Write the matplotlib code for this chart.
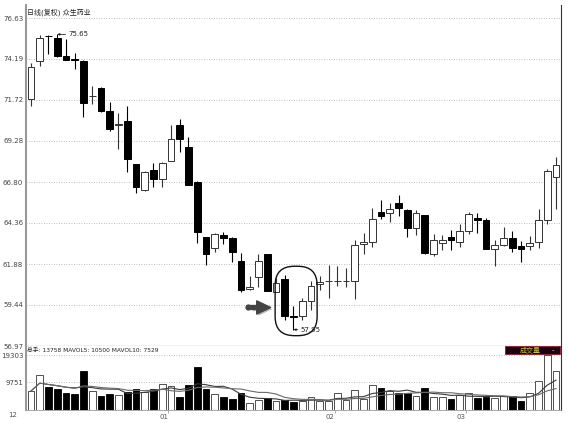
import numpy as np
import pandas as pd
import matplotlib
matplotlib.use("Agg")
import matplotlib.pyplot as plt
import matplotlib.patheffects as pe
from matplotlib.patches import FancyBboxPatch, FancyArrowPatch, Rectangle

plt.rcParams["font.family"] = ["DejaVu Sans", "Noto Sans CJK SC"]


# ==============================
# DATA
# ==============================

opens = [71.77, 74.06, 75.58, 75.41, 74.36, 74.18, 74.06, 71.95, 72.45, 71.03,
         70.24, 70.44, 67.85, 66.31, 67.53, 66.97, 68.03, 70.23, 68.92, 66.83,
         63.50, 62.85, 63.62, 63.46, 62.05, 60.40, 61.09, 62.46, 60.20, 61.01,
         58.76, 58.74, 59.68, 60.70, 60.84, 60.86, 60.86, 60.89, 63.10, 63.21,
         65.02, 64.94, 65.56, 65.14, 64.06, 64.82, 62.46, 63.12, 63.50, 63.21,
         63.85, 64.66, 64.52, 62.79, 63.05, 63.46, 62.94, 62.94, 63.21, 64.52,
         67.13]
highs = [73.96, 75.60, 75.62, 75.65, 75.36, 74.56, 74.12, 72.53, 72.50, 71.59,
         70.93, 71.37, 67.90, 67.47, 67.94, 68.00, 70.24, 70.59, 69.48, 66.85,
         63.52, 63.72, 63.82, 63.50, 62.55, 61.15, 62.46, 62.48, 61.05, 61.21,
         59.34, 59.83, 60.87, 61.15, 61.85, 61.74, 61.65, 63.32, 63.75, 65.26,
         65.74, 65.56, 66.03, 65.16, 65.10, 64.84, 63.66, 63.60, 63.90, 64.30,
         65.00, 64.96, 64.62, 63.30, 64.10, 63.86, 63.26, 63.55, 65.20, 67.60,
         68.27]
lows = [71.33, 73.76, 74.50, 74.30, 74.10, 73.60, 70.68, 71.49, 71.00, 69.88,
        68.78, 67.37, 66.13, 66.25, 66.53, 66.53, 68.03, 68.58, 66.61, 63.16,
        61.85, 62.61, 63.06, 61.99, 60.20, 60.35, 60.48, 60.24, 60.18, 58.54,
        57.95, 58.54, 59.14, 60.30, 59.84, 60.54, 60.50, 59.80, 62.46, 62.90,
        64.60, 64.42, 64.78, 63.53, 63.60, 62.50, 62.35, 62.74, 62.74, 62.90,
        63.70, 63.75, 62.76, 61.75, 62.95, 62.61, 62.00, 62.70, 62.85, 64.27,
        65.17]
closes = [73.70, 75.44, 75.54, 74.38, 74.14, 74.10, 71.53, 71.97, 71.05, 69.96,
          70.26, 68.15, 66.53, 67.37, 66.97, 67.91, 69.38, 69.36, 66.61, 63.80,
          62.46, 63.66, 63.46, 62.61, 60.35, 60.50, 62.09, 60.24, 60.75, 58.74,
          58.72, 59.64, 60.59, 60.82, 60.86, 60.86, 60.89, 63.02, 63.18, 64.56,
          64.76, 65.19, 65.26, 64.06, 64.96, 62.55, 63.30, 63.32, 63.34, 63.85,
          64.86, 64.52, 62.76, 63.03, 63.46, 62.85, 62.79, 63.15, 64.52, 67.47,
          67.84]
volumes = [6690, 12215, 7990, 7286, 5878, 5526, 13834, 6794, 4928, 5632,
           5280, 6336, 7392, 6442, 7392, 9046, 8554, 4470, 8800, 15242,
           7392, 5526, 4682, 3872, 6090, 2358, 3520, 4330, 3168, 3520,
           2710, 3168, 4682, 3274, 3274, 5878, 3520, 7040, 3766, 8800,
           7638, 6794, 5878, 5878, 4928, 7638, 4682, 4682, 3766, 5280,
           5878, 4350, 4480, 4150, 4810, 5000, 3200, 5900, 10339, 19303,
           13758]

price_ticks = [76.63, 74.19, 71.72, 69.28, 66.80, 64.36, 61.88, 59.44, 56.97]
vol_ticks = [9751, 19303]
month_labels = ["01", "02", "03"]
month_starts = [16, 35, 50]

title = "日线(复权) 众生药业"


# ==============================
# FIGURE
# ==============================

W, H = 568, 423
fig = plt.figure(figsize=(W / 100, H / 100), dpi=100)
fig.patch.set_facecolor("white")

ax = fig.add_axes([26 / W, 1 - 346 / H, 535 / W, 341 / H])
axv = fig.add_axes([26 / W, 1 - 410 / H, 535 / W, 64 / H])

o = np.array(opens)
h = np.array(highs)
l = np.array(lows)
c = np.array(closes)
v = np.array(volumes)
x = np.arange(len(o))
up = c >= o

face = np.where(up, "white", "black")
edge = np.where(up, "#333333", "black")

# candles
ax.vlines(x, l, h, colors=edge, lw=0.8, zorder=2)
ax.bar(x, np.maximum(np.abs(c - o), 0.03), bottom=np.minimum(o, c), width=0.75,
       color=face, edgecolor=edge, linewidth=0.7, zorder=3)

ax.set_xlim(-0.57, 60.57)
ax.set_ylim(56.97, 77.41)
ax.set_yticks(price_ticks)
ax.set_yticklabels([f"{t:.2f}" for t in price_ticks])
ax.set_xticks([])
ax.tick_params(axis="y", length=0, pad=2, labelsize=5, labelcolor="#444444")
ax.grid(axis="y", linestyle=(0, (1, 2)), color="#aaaaaa", lw=0.6, zorder=0)
ax.spines["top"].set_visible(False)
ax.spines["left"].set_color("#999999")
ax.spines["left"].set_linewidth(1.5)
ax.spines["right"].set_color("#333333")
ax.spines["right"].set_linewidth(0.8)
ax.spines["bottom"].set_color("#222222")
ax.spines["bottom"].set_linewidth(0.8)

ax.text(0.002, 0.99, title, transform=ax.transAxes, fontsize=5,
        color="#222222", va="top", ha="left")

# high / low markers
ih = int(np.argmax(h))
ax.annotate(f"{h[ih]:.2f}", xy=(ih, h[ih]), xytext=(8, 0), textcoords="offset points",
            fontsize=5, color="#222222", va="center",
            arrowprops=dict(arrowstyle="-|>,head_length=0.25,head_width=0.12",
                            color="#222222", lw=0.6, shrinkA=0, shrinkB=0))
il = int(np.argmin(l))
ax.annotate(f"{l[il]:.2f}", xy=(il, l[il]), xytext=(5, 0), textcoords="offset points",
            fontsize=5, color="#222222", va="center",
            arrowprops=dict(arrowstyle="-|>,head_length=0.25,head_width=0.12",
                            color="#222222", lw=0.6, shrinkA=0, shrinkB=0))

# circled reversal + pointer arrow
box = FancyBboxPatch((27.9, 57.59), 4.8, 4.16,
                     boxstyle="round,pad=0,rounding_size=2.2", mutation_aspect=0.52,
                     fill=False, ec="#111111", lw=1.0, zorder=5)
ax.add_patch(box)

arrow = FancyArrowPatch((24.8, 59.28), (27.7, 59.28),
                        arrowstyle="simple,head_length=1.0,head_width=0.95,tail_width=0.28",
                        mutation_scale=10, color="#444444", zorder=6,
                        path_effects=[pe.SimplePatchShadow(offset=(1.2, -1.2),
                                                           shadow_rgbFace="#888888", alpha=0.6),
                                      pe.Normal()])
ax.add_patch(arrow)
ax.plot(24.8, 59.28, "o", ms=3.5, color="#444444", zorder=6)

# ==============================
# VOLUME PANEL
# ==============================

vs = pd.Series(v, dtype=float)
ma5 = vs.rolling(5, min_periods=1).mean()
ma10 = vs.rolling(10, min_periods=1).mean()

axv.bar(x, v, width=0.75, color=face, edgecolor=edge, linewidth=0.6, zorder=2)
axv.plot(x, ma5, color="#3a3a3a", lw=0.8, zorder=3)
axv.plot(x, ma10, color="#6a6a6a", lw=0.8, zorder=3)

axv.set_xlim(-0.57, 60.57)
axv.set_ylim(0, 22500)
axv.set_yticks(vol_ticks)
axv.set_yticklabels([str(t) for t in vol_ticks])
axv.tick_params(axis="y", length=0, pad=2, labelsize=5, labelcolor="#444444")
axv.grid(axis="y", linestyle=(0, (1, 2)), color="#aaaaaa", lw=0.6, zorder=0)

axv.set_xticks([m - 0.3 for m in month_starts])
axv.set_xticklabels(month_labels, ha="right")
axv.tick_params(axis="x", length=2, width=0.5, color="#888888", pad=1,
                labelsize=5, labelcolor="#555555")

axv.spines["top"].set_visible(False)
axv.spines["left"].set_color("#999999")
axv.spines["left"].set_linewidth(1.5)
axv.spines["right"].set_color("#333333")
axv.spines["right"].set_linewidth(0.8)
axv.spines["bottom"].set_color("#999999")
axv.spines["bottom"].set_linewidth(0.6)

fig.text(13 / W, 1 - 415 / H, "12", fontsize=5, color="#555555", ha="center", va="center")

header = f"总手: {v[-1]} MAVOL5: {ma5.iloc[-1]:.0f} MAVOL10: {ma10.iloc[-1]:.0f}"
fig.text(27 / W, 1 - 350 / H, header, fontsize=4.2, color="#222222", ha="left", va="center")

fig.patches.append(Rectangle((505 / W, 1 - 354 / H), 55 / W, 8 / H, transform=fig.transFigure,
                             facecolor="#1e0010", edgecolor="#8b1a2a", lw=0.6, zorder=5))
fig.text(530 / W, 1 - 350 / H, "成交量", fontsize=5, color="#c8c832", ha="center", va="center",
         zorder=6)
fig.text(553 / W, 1 - 350 / H, "-", fontsize=5, color="#dddddd", ha="center", va="center",
         zorder=6)

fig.savefig("out.png", dpi=100)
